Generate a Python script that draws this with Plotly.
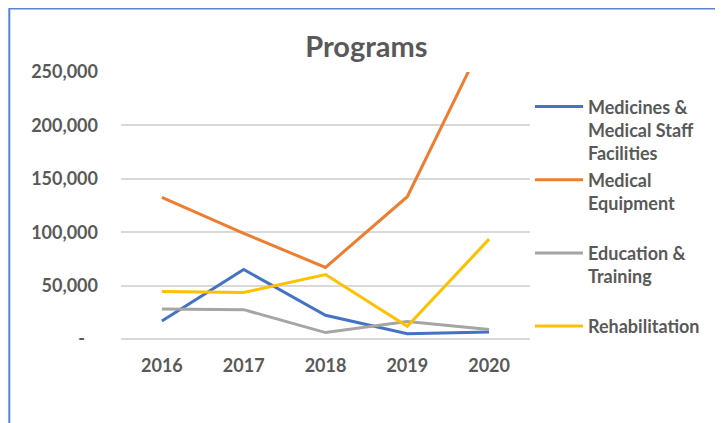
import plotly.graph_objects as go

years = ["2016", "2017", "2018", "2019", "2020"]
medicines = [16900, 65100, 22200, 5000, 6600]
equipment = [132600, 98900, 67000, 133200, 290000]
education = [28100, 27500, 6000, 16300, 8800]
rehab = [44500, 43500, 60400, 11900, 93500]

series_names = ["Medicines &<br>Medical Staff<br>Facilities",
                "Medical<br>Equipment<br>\u00a0",
                "Education &<br>Training<br>\u00a0",
                "Rehabilitation"]
series_values = [medicines, equipment, education, rehab]
colors = ["#4472C4", "#ED7D31", "#A5A5A5", "#FFC000"]

y_tickvals = [0, 50000, 100000, 150000, 200000, 250000]
y_ticktext = ["-\u00a0\u00a0\u00a0", "50,000", "100,000", "150,000", "200,000", "250,000"]

FONT = "Lato"
GREY = "#595959"

# page body has an 8px margin; plot area placed to compensate
L, T, PW, PH = 113, 64, 409, 267

fig = go.Figure()
for i, (name, vals, col) in enumerate(zip(series_names, series_values, colors)):
    fig.add_trace(go.Scatter(x=years, y=vals, mode="lines", name=name,
                             legendgroup=f"g{i}",
                             line=dict(color=col, width=3)))

fig.update_layout(
    width=723, height=423,
    margin=dict(l=L, r=723 - L - PW, t=T, b=423 - T - PH),
    paper_bgcolor="white", plot_bgcolor="white",
    title=dict(text="<b>Programs</b>", x=0.600, xref="paper", xanchor="center",
               y=0.908, yref="container", yanchor="middle",
               font=dict(family=FONT, size=29, color=GREY)),
    font=dict(family=FONT, color=GREY),
    showlegend=True,
    legend=dict(x=1.0, xanchor="left", y=0.939, yanchor="top",
                font=dict(family=FONT, size=18, color=GREY, weight="bold"),
                valign="top", tracegroupgap=0, itemwidth=48,
                bgcolor="rgba(0,0,0,0)"),
    xaxis=dict(type="category", range=[-0.5, 4.5], showgrid=False,
               showline=False, ticks="", ticklabelstandoff=14,
               tickfont=dict(family=FONT, size=18, color=GREY, weight="bold")),
    yaxis=dict(range=[0, 250000], tickvals=y_tickvals, ticktext=y_ticktext,
               showgrid=True, gridcolor="#D9D9D9", gridwidth=1.5,
               zeroline=True, zerolinecolor="#D9D9D9", zerolinewidth=1.5,
               showline=False, ticks="", ticklabelstandoff=22,
               tickfont=dict(family=FONT, size=18, color=GREY, weight="bold")),
    shapes=[dict(type="rect", xref="paper", yref="paper",
                 x0=(1.3 - L) / PW, x1=2.0,
                 y0=-1.0, y1=(T + PH - 0.6) / PH,
                 line=dict(color="#5A82D0", width=2), layer="below")],
)

fig.write_html("out.html")
